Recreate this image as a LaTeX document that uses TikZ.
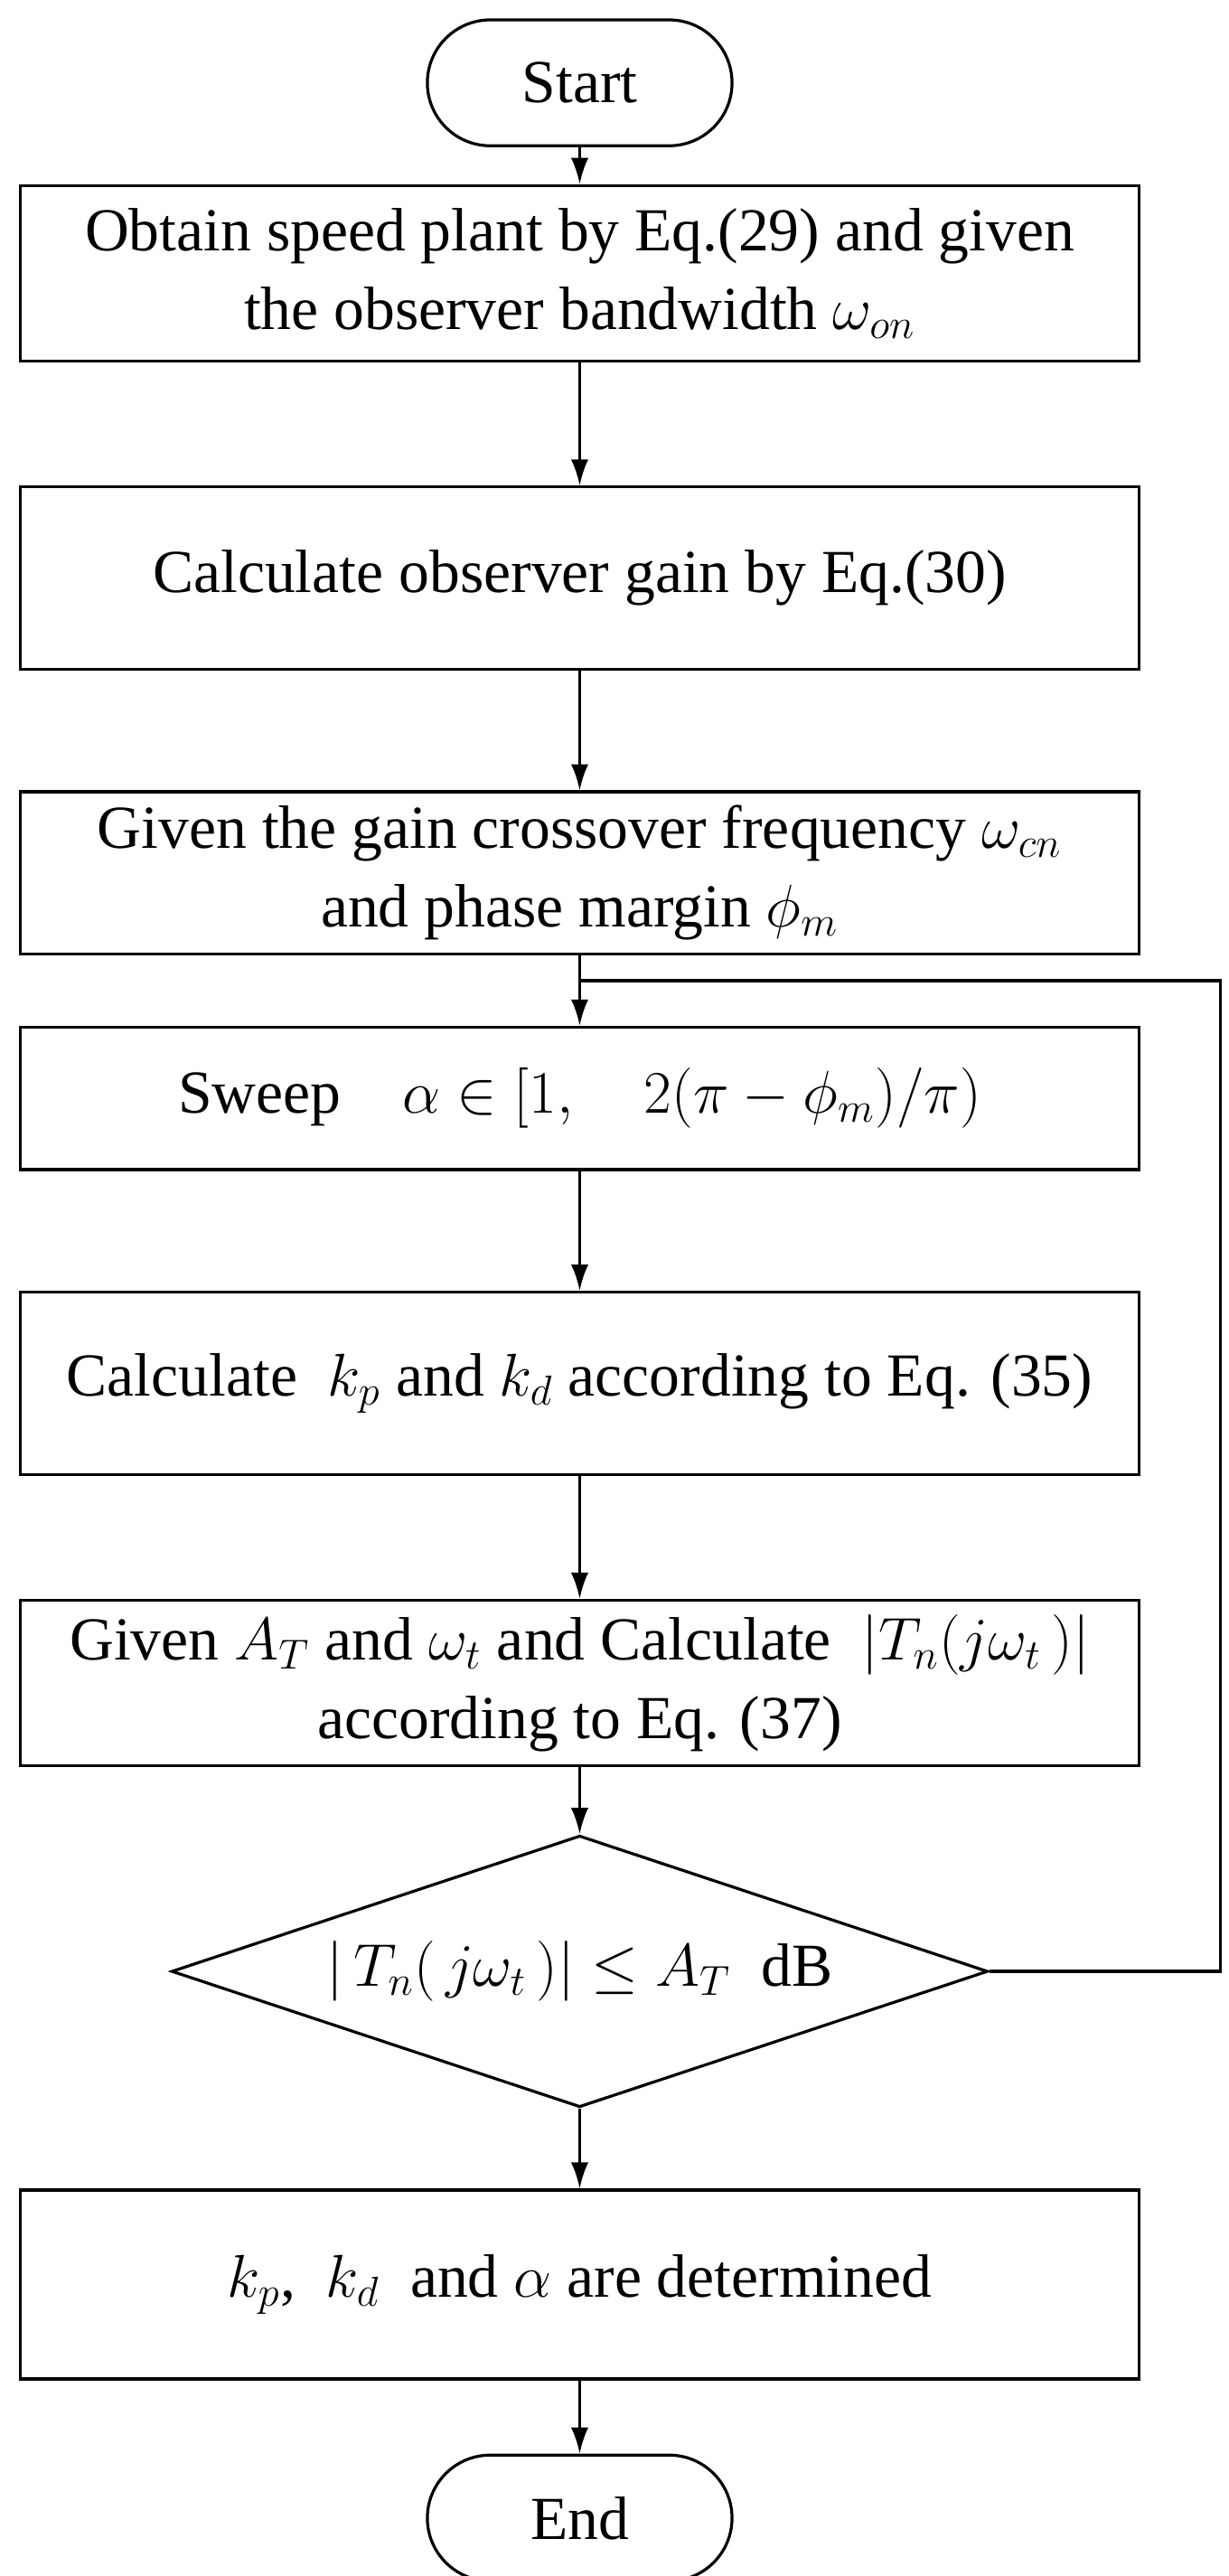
\documentclass[tikz,border=0pt]{standalone}
\usepackage{fontspec}
\setmainfont{Liberation Serif}
\usetikzlibrary{arrows.meta,shapes.geometric}
\begin{document}
\begin{tikzpicture}
[x=0.02cm,y=-0.02cm,
>={Latex[length=9pt,width=6pt]},
every node/.style={font=\fontsize{21}{27}\selectfont, line width=1pt, align=center},
term/.style={draw, rounded corners=0.76cm, minimum width=3.68cm, minimum height=1.52cm},
proc/.style={draw, minimum width=13.52cm},
test/.style={draw, diamond, aspect=3, inner sep=0pt, minimum width=9.86cm, minimum height=3.28cm},
flow/.style={->, line width=1pt}]
  \useasboundingbox (0,0) rectangle (742,1555);
  \node[term] (start) at (350,50) {Start};
  \node[proc, minimum height=2.12cm] (plant) at (350,165) {Obtain speed plant by Eq.(29) and given\\the observer bandwidth $\omega_{on}$};
  \node[proc, minimum height=2.2cm] (gain) at (350,349) {Calculate observer gain by Eq.(30)};
  \node[proc, minimum height=1.96cm] (cross) at (350,527) {Given the gain crossover frequency $\omega_{cn}$\\and phase margin $\phi_m$};
  \node[proc, minimum height=1.72cm] (sweep) at (350,663) {Sweep\quad $\alpha\in[1,\quad 2(\pi-\phi_m)/\pi)$};
  \node[proc, minimum height=2.2cm] (kpkd) at (350,835) {Calculate\ \ $k_p$ and $k_d$ according to Eq. (35)};
  \node[proc, minimum height=2cm] (tn) at (350,1016) {Given $A_T$ and $\omega_t$ and Calculate\ \ $|T_n(j\omega_t\,)|$\\according to Eq. (37)};
  \node[test] (check) at (350,1190) {$|\,T_n(\,j\omega_t\,)|\le A_T$\ \ dB};
  \node[proc, minimum height=2.28cm] (done) at (350,1379) {$k_p$,\ \ $k_d$\ \ and $\alpha$ are determined};
  \node[term] (end) at (350,1520) {End};
  \coordinate (loop) at (350,592);
  \draw[flow] (start) -- (plant);
  \draw[flow] (plant) -- (gain);
  \draw[flow] (gain) -- (cross);
  \draw[flow] (cross) -- (sweep);
  \draw[flow] (sweep) -- (kpkd);
  \draw[flow] (kpkd) -- (tn);
  \draw[flow] (tn) -- (check);
  \draw[flow] (check) -- (done);
  \draw[flow] (done) -- (end);
  \draw[line width=1pt] (check.east) -- (737,1190) -- (737,592) -- (loop);
\end{tikzpicture}
\end{document}
